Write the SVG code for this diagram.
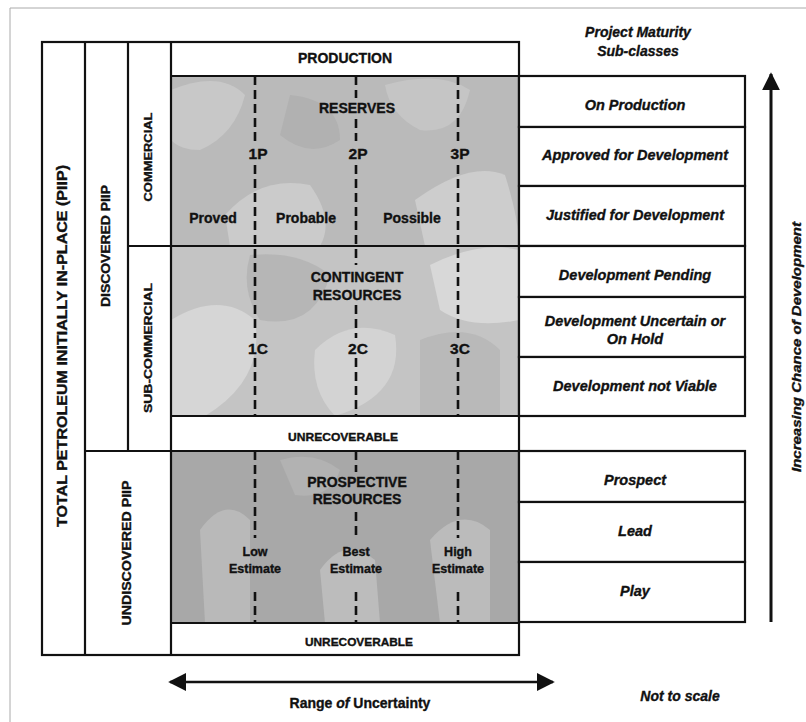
<svg xmlns="http://www.w3.org/2000/svg" width="806" height="722" viewBox="0 0 806 722">
<style>
  .t{font-family:"Liberation Sans",Arial,sans-serif;font-weight:bold;fill:#111;stroke:#111;stroke-width:0.35;text-anchor:middle}
  .i{font-style:italic}
  .box{fill:#fff;stroke:#111;stroke-width:2.2}
  .ln{stroke:#111;stroke-width:2.2;fill:none}
  .dash{stroke:#111;stroke-width:2.6;stroke-dasharray:9 5;fill:none}
</style>
<defs>
  <marker id="ah" viewBox="0 0 10 10" refX="9" refY="5" markerWidth="18" markerHeight="18" markerUnits="userSpaceOnUse" orient="auto-start-reverse">
    <path d="M0,0 L10,5 L0,10 z" fill="#111"/>
  </marker>
  <clipPath id="cR"><rect x="171" y="76" width="348" height="170"/></clipPath>
  <clipPath id="cC"><rect x="171" y="246" width="348" height="170"/></clipPath>
  <clipPath id="cP"><rect x="171" y="451" width="348" height="172"/></clipPath>
</defs>
<rect width="806" height="722" fill="#fff"/>
<path d="M10,8 H806 M10,8 V722" stroke="#aaa" stroke-width="1" fill="none"/>

<g id="shading">
  <g clip-path="url(#cR)">
    <rect x="171" y="76" width="348" height="170" fill="#bababa"/>
    <path d="M171,90 Q220,70 245,95 Q235,135 200,150 Q180,150 171,140 Z" fill="#c8c8c8"/>
    <path d="M225,215 Q260,175 310,185 Q335,220 320,246 L230,246 Z" fill="#cbcbcb"/>
    <path d="M385,85 Q440,70 470,90 Q460,135 420,130 Q390,115 385,85 Z" fill="#c5c5c5"/>
    <path d="M415,200 Q470,160 505,175 Q519,220 519,246 L425,246 Z" fill="#cdcdcd"/>
    <path d="M290,95 Q340,100 340,140 Q310,160 280,135 Z" fill="#b1b1b1"/>
  </g>
  <g clip-path="url(#cC)">
    <rect x="171" y="246" width="348" height="170" fill="#c4c4c4"/>
    <path d="M171,320 Q220,290 255,320 Q265,380 205,416 L171,416 Z" fill="#d6d6d6"/>
    <path d="M315,350 Q350,315 395,335 Q405,395 335,416 Q310,390 315,350 Z" fill="#d3d3d3"/>
    <path d="M430,265 Q480,240 519,250 L519,320 Q470,330 440,310 Z" fill="#d8d8d8"/>
    <path d="M250,255 Q300,250 330,275 Q315,330 260,320 Q240,290 250,255 Z" fill="#b6b6b6"/>
    <path d="M420,340 Q470,320 500,350 L500,416 L420,416 Z" fill="#b9b9b9"/>
  </g>
  <g clip-path="url(#cP)">
    <rect x="171" y="451" width="348" height="172" fill="#a8a8a8"/>
    <path d="M200,530 Q225,495 250,520 L250,623 L205,623 Z" fill="#b9b9b9"/>
    <path d="M320,570 Q345,535 375,560 L380,623 L325,623 Z" fill="#bcbcbc"/>
    <path d="M430,540 Q460,505 490,530 L490,623 L440,623 Z" fill="#bbbbbb"/>
    <path d="M280,460 Q315,450 340,470 Q330,500 295,495 Z" fill="#b2b2b2"/>
  </g>
</g>

<g id="table">
  <rect x="42" y="42" width="477" height="613" class="ln"/>
  <path class="ln" d="M85,42 V655 M128,42 V451 M171,42 V655 M171,76 H519 M128,246 H519 M171,416 H519 M85,451 H519 M171,623 H519"/>
</g>

<g id="connectors">
  <path class="dash" d="M255,76 V141 M255,165 V338 M255,358 V416 M255,451 V538 M255,592 V623"/>
  <path class="dash" d="M356,76 V98 M356,119 V141 M356,165 V265 M356,305 V338 M356,358 V416 M356,451 V472 M356,512 V538 M356,592 V623"/>
  <path class="dash" d="M458,76 V141 M458,165 V338 M458,358 V416 M458,451 V538 M458,592 V623"/>
  <line x1="771" y1="622" x2="771" y2="74" stroke="#111" stroke-width="3" marker-end="url(#ah)"/>
  <line x1="170" y1="682" x2="553" y2="682" stroke="#111" stroke-width="2.5" marker-start="url(#ah)" marker-end="url(#ah)"/>
</g>

<g id="left-labels">
  <text class="t" font-size="14" transform="translate(62,346) rotate(-90)" dy="5" textLength="362" lengthAdjust="spacingAndGlyphs">TOTAL PETROLEUM INITIALLY IN-PLACE  (PIIP)</text>
  <text class="t" font-size="12" transform="translate(105,246) rotate(-90)" dy="4.5" textLength="122" lengthAdjust="spacingAndGlyphs">DISCOVERED  PIIP</text>
  <text class="t" font-size="11.5" transform="translate(148,157) rotate(-90)" dy="4" textLength="89" lengthAdjust="spacingAndGlyphs">COMMERCIAL</text>
  <text class="t" font-size="11.5" transform="translate(148,348) rotate(-90)" dy="4" textLength="130" lengthAdjust="spacingAndGlyphs">SUB-COMMERCIAL</text>
  <text class="t" font-size="12" transform="translate(126,553) rotate(-90)" dy="4.5" textLength="145" lengthAdjust="spacingAndGlyphs">UNDISCOVERED  PIIP</text>
</g>

<g id="production"><text class="t" x="345" y="63" font-size="14">PRODUCTION</text></g>
<g id="reserves">
  <text class="t" x="357" y="113" font-size="14">RESERVES</text>
  <text class="t" x="258" y="159" font-size="15.5">1P</text>
  <text class="t" x="358" y="159" font-size="15.5">2P</text>
  <text class="t" x="460" y="159" font-size="15.5">3P</text>
  <text class="t" x="213" y="223" font-size="14">Proved</text>
  <text class="t" x="306" y="223" font-size="14">Probable</text>
  <text class="t" x="412" y="223" font-size="14">Possible</text>
</g>
<g id="contingent">
  <text class="t" x="357" y="282" font-size="14">CONTINGENT</text>
  <text class="t" x="357" y="300" font-size="14">RESOURCES</text>
  <text class="t" x="258" y="354" font-size="15.5">1C</text>
  <text class="t" x="358" y="354" font-size="15.5">2C</text>
  <text class="t" x="460" y="354" font-size="15.5">3C</text>
</g>
<g id="unrecoverable1"><text class="t" x="343" y="441" font-size="11" textLength="110" lengthAdjust="spacingAndGlyphs">UNRECOVERABLE</text></g>
<g id="prospective">
  <text class="t" x="357" y="487" font-size="14">PROSPECTIVE</text>
  <text class="t" x="357" y="504" font-size="14">RESOURCES</text>
  <text class="t" x="255" y="556" font-size="12.5">Low</text>
  <text class="t" x="255" y="573" font-size="12.5">Estimate</text>
  <text class="t" x="356" y="556" font-size="12.5">Best</text>
  <text class="t" x="356" y="573" font-size="12.5">Estimate</text>
  <text class="t" x="458" y="556" font-size="12.5">High</text>
  <text class="t" x="458" y="573" font-size="12.5">Estimate</text>
</g>
<g id="unrecoverable2"><text class="t" x="359" y="646" font-size="11" textLength="108" lengthAdjust="spacingAndGlyphs">UNRECOVERABLE</text></g>

<g id="maturity">
  <text class="t i" x="638" y="37" font-size="14">Project Maturity</text>
  <text class="t i" x="638" y="56" font-size="14">Sub-classes</text>
  <g id="on-production"><rect class="box" x="519" y="76" width="226" height="51"/><text class="t i" x="635" y="110" font-size="14.5">On Production</text></g>
  <g id="approved"><rect class="box" x="519" y="127" width="226" height="59"/><text class="t i" x="635" y="160" font-size="14.5">Approved for Development</text></g>
  <g id="justified"><rect class="box" x="519" y="186" width="226" height="60"/><text class="t i" x="635" y="220" font-size="14.5">Justified for Development</text></g>
  <g id="pending"><rect class="box" x="519" y="246" width="226" height="51"/><text class="t i" x="635" y="280" font-size="14.5">Development Pending</text></g>
  <g id="uncertain"><rect class="box" x="519" y="297" width="226" height="60"/><text class="t i" x="635" y="326" font-size="14.5">Development Uncertain or</text><text class="t i" x="635" y="344" font-size="14.5">On Hold</text></g>
  <g id="not-viable"><rect class="box" x="519" y="357" width="226" height="59"/><text class="t i" x="635" y="391" font-size="14.5">Development not Viable</text></g>
  <g id="prospect"><rect class="box" x="519" y="451" width="226" height="51"/><text class="t i" x="635" y="485" font-size="14.5">Prospect</text></g>
  <g id="lead"><rect class="box" x="519" y="502" width="226" height="60"/><text class="t i" x="635" y="536" font-size="14.5">Lead</text></g>
  <g id="play"><rect class="box" x="519" y="562" width="226" height="60"/><text class="t i" x="635" y="596" font-size="14.5">Play</text></g>
</g>

<g id="axis-labels">
  <text class="t i" font-size="13" transform="translate(796,347) rotate(-90)" dy="4.5" textLength="250" lengthAdjust="spacingAndGlyphs">Increasing Chance of Development</text>
  <text class="t" x="360" y="708" font-size="14">Range <tspan font-style="italic">of</tspan> Uncertainty</text>
  <text class="t i" x="680" y="701" font-size="14">Not to scale</text>
</g>
</svg>
